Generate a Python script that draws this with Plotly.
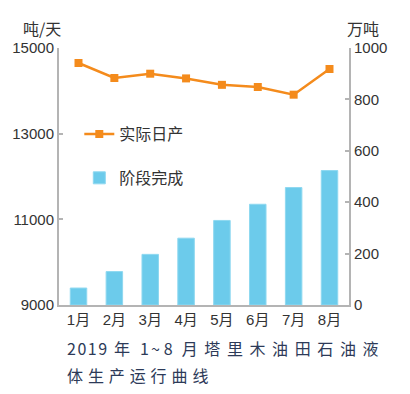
import plotly.graph_objects as go

months = ["1月", "2月", "3月", "4月", "5月", "6月", "7月", "8月"]
daily_output = [14650, 14300, 14400, 14290, 14140, 14090, 13910, 14510]   # 吨/天
cumulative = [66, 130, 197, 260, 329, 392, 457, 523]                      # 万吨
left_ticks = [9000, 11000, 13000, 15000]
left_labels = ["9000", "11000", "13000", "15000"]
right_ticks = [0, 200, 400, 600, 800, 1000]
right_labels = ["0", "200", "400", "600", "800", "1000"]

ORANGE = "#f48b1c"
BLUE = "#6ccbeb"
AXIS = "#b4b4b4"
TXT = "#333333"
CAP = "#2d3a58"
CJK = "Noto Sans CJK SC, sans-serif"

fig = go.Figure()
fig.add_trace(go.Scatter(
    x=months, y=daily_output, name="实际日产", mode="lines+markers",
    line=dict(color=ORANGE, width=2.5),
    marker=dict(symbol="square", size=8, color=ORANGE),
    yaxis="y", legendgroup="a"))
fig.add_trace(go.Bar(
    x=months, y=cumulative, name="阶段完成",
    marker=dict(color=BLUE, line=dict(color="#8ed8f0", width=1)),
    width=0.46, yaxis="y2", legendgroup="b"))

font_main = "Liberation Sans, Noto Sans CJK SC, sans-serif"

fig.update_layout(
    width=402, height=386,
    margin=dict(l=51, r=61, t=40, b=89, autoexpand=False),
    paper_bgcolor="white", plot_bgcolor="white",
    font=dict(family=font_main, size=15, color=TXT),
    showlegend=True,
    legend=dict(x=0.07, y=0.731, xanchor="left", yanchor="top",
                bgcolor="rgba(0,0,0,0)", font=dict(size=16, color=TXT, family=CJK),
                traceorder="grouped", tracegroupgap=20, itemwidth=30),
    xaxis=dict(showline=True, linecolor=AXIS, linewidth=2, ticks="",
               showgrid=False, automargin=False,
               tickfont=dict(size=15, color=TXT, family=font_main)),
    yaxis=dict(range=[9000, 15000], tickvals=left_ticks, ticktext=left_labels,
               showgrid=False, automargin=False,
               showline=True, linecolor=AXIS, linewidth=2, ticks="inside",
               ticklen=4, tickcolor=AXIS, tickwidth=1.5, zeroline=False,
               tickfont=dict(size=15, color=TXT)),
    yaxis2=dict(range=[0, 1000], tickvals=right_ticks, ticktext=right_labels,
                overlaying="y", side="right", automargin=False,
                showgrid=False, showline=True, linecolor=AXIS, linewidth=2,
                ticks="inside", ticklen=4, tickcolor=AXIS, tickwidth=1.5,
                zeroline=False, tickfont=dict(size=15, color=TXT)),
    bargap=0.5,
)

line1 = ('<span style="letter-spacing:1.5px">201</span>'
         '<span style="letter-spacing:7px">9</span>'
         '<span style="letter-spacing:10px">年</span>'
         '<span style="letter-spacing:2px">1</span>'
         '<span style="letter-spacing:4px">~</span>'
         '<span style="letter-spacing:9px">8</span>'
         '<span style="letter-spacing:6.6px">月塔里木油田石油液</span>')
line2 = '<span style="letter-spacing:4.9px">体生产运行曲线</span>'

annotations = [
    dict(text="吨/天", xref="paper", yref="paper", x=-0.13, y=1.0, yshift=20,
         xanchor="left", yanchor="middle", showarrow=False,
         font=dict(size=16, color=TXT, family=CJK)),
    dict(text="万吨", xref="paper", yref="paper", x=1.0, y=1.0, yshift=20,
         xshift=-4, xanchor="left", yanchor="middle", showarrow=False,
         font=dict(size=16, color=TXT, family=CJK)),
    dict(text=line1, xref="paper", yref="paper", x=0.02, y=-0.167,
         xanchor="left", yanchor="middle", showarrow=False, align="left",
         font=dict(size=16, color=CAP, family=CJK)),
    dict(text=line2, xref="paper", yref="paper", x=0.02, y=-0.272,
         xanchor="left", yanchor="middle", showarrow=False, align="left",
         font=dict(size=16, color=CAP, family=CJK)),
]
fig.update_layout(annotations=annotations)

fig.write_html("out.html")
